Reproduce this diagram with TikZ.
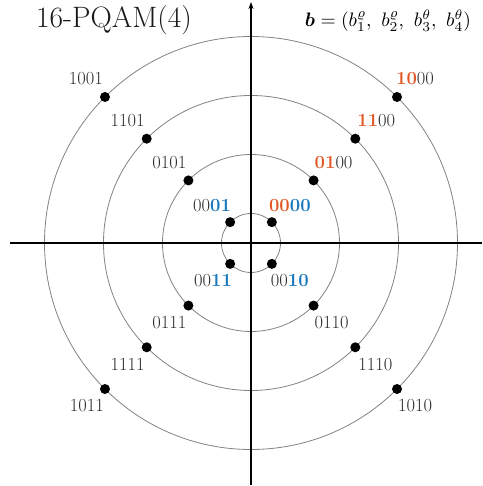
\documentclass[tikz,border=0pt]{standalone}
\usepackage{amsmath,bm}
\usepackage{fontspec}
\usetikzlibrary{arrows.meta,calc}
\definecolor{myorange}{RGB}{226,88,38}
\definecolor{myblue}{RGB}{24,120,190}
\definecolor{labgray}{RGB}{45,45,45}
\definecolor{ringgray}{RGB}{130,130,130}
\tikzset{
  ring/.style={draw=ringgray, line width=0.8pt},
  axis/.style={draw=black, line width=1.7pt},
  pt/.style={circle, fill=black, inner sep=0pt, minimum size=10pt},
  lab/.style={text=labgray, font=\fontsize{18.5}{21}\selectfont, inner sep=0pt},
}
\newcommand{\og}[1]{\textcolor{myorange}{\bfseries #1}}
\newcommand{\bl}[1]{\textcolor{myblue}{\bfseries #1}}
\begin{document}
\begin{tikzpicture}[x=1pt,y=1pt]
\useasboundingbox (-251,-243) rectangle (231,243);
\coordinate (O) at (0,0);
\foreach \r in {29.5,88.5,147.5,206.5} \draw[ring] (O) circle (\r);
\coordinate (xl) at (-241,0);
\coordinate (xr) at (231,0);
\coordinate (yb) at (0,-242);
\coordinate (yt) at (0,241);
\draw[axis] (xl) -- (xr);
\draw[axis, -{Stealth[length=7pt,width=5pt]}] (yb) -- (yt);
% points
\foreach \k/\r in {1/29.5,3/88.5,5/147.5,7/206.5}{
  \node[pt] (ne\k) at (45:\r) {};
  \node[pt] (nw\k) at (135:\r) {};
  \node[pt] (sw\k) at (225:\r) {};
  \node[pt] (se\k) at (315:\r) {};
}
% labels
\node[lab] (l0000) at ($(ne1)+(18,17)$) {\og{00}\bl{00}};
\node[lab] (l0100) at ($(ne3)+(20,18)$) {\og{01}00};
\node[lab] (l1100) at ($(ne5)+(21,18)$) {\og{11}00};
\node[lab] (l1000) at ($(ne7)+(18,18)$) {\og{10}00};
\node[lab] (l0001) at ($(nw1)+(-18,17)$) {00\bl{01}};
\node[lab] (l0101) at ($(nw3)+(-19,18)$) {0101};
\node[lab] (l1101) at ($(nw5)+(-19,18)$) {1101};
\node[lab] (l1001) at ($(nw7)+(-19,18)$) {1001};
\node[lab] (l0011) at ($(sw1)+(-17,-17)$) {00\bl{11}};
\node[lab] (l0111) at ($(sw3)+(-19,-17)$) {0111};
\node[lab] (l1111) at ($(sw5)+(-19,-17)$) {1111};
\node[lab] (l1011) at ($(sw7)+(-18,-17)$) {1011};
\node[lab] (l0010) at ($(se1)+(18,-17)$) {00\bl{10}};
\node[lab] (l0110) at ($(se3)+(18,-17)$) {0110};
\node[lab] (l1110) at ($(se5)+(20,-17)$) {1110};
\node[lab] (l1010) at ($(se7)+(18,-17)$) {1010};
% title and formula
\node[text=black!90, font=\fontsize{29.5}{32}\selectfont, inner sep=0pt] (title) at (-137,223) {16-PQAM(4)};
\node[text=black, font=\fontsize{10}{12}\selectfont, inner sep=0pt, scale=1.95] (formula) at (137,222) {$\bm{b}=(b_1^{\varrho},\ b_2^{\varrho},\ b_3^{\theta},\ b_4^{\theta})$};
\end{tikzpicture}
\end{document}
